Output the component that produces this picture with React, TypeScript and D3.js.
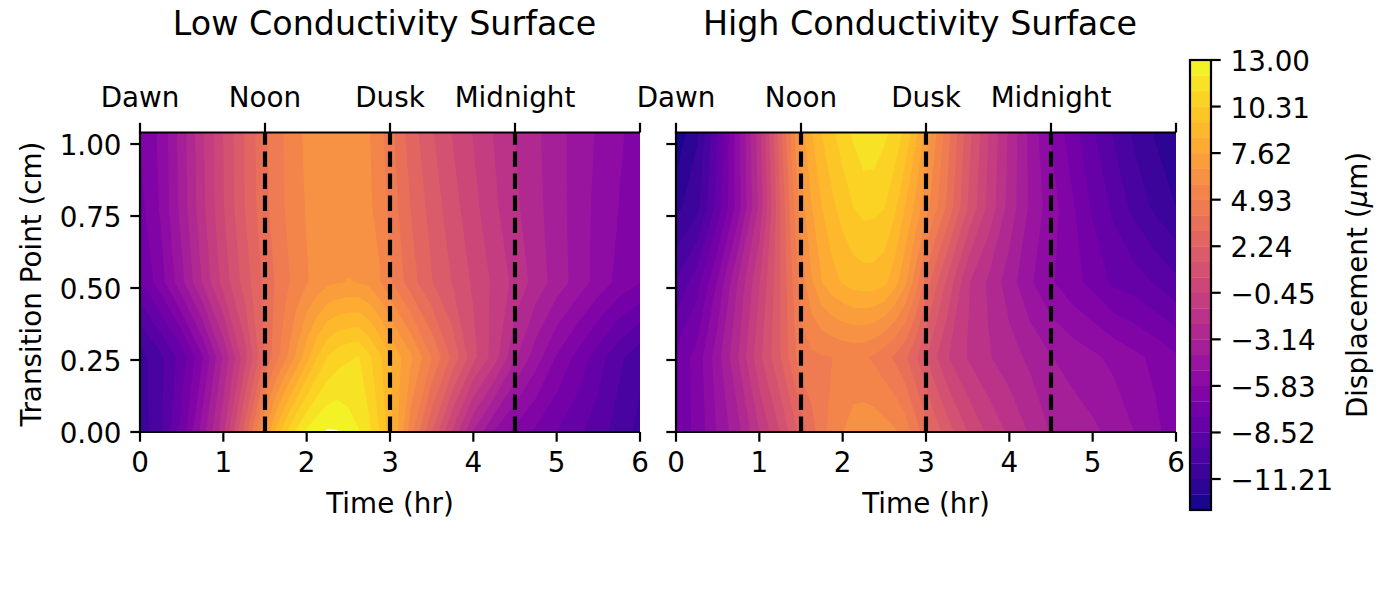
import React from "react";
import * as d3 from "d3";

const hours = [0,0.25,0.5,0.75,1,1.25,1.5,1.625,1.75,1.875,2,2.125,2.25,2.375,2.5,2.625,2.75,2.875,3,3.125,3.25,3.5,3.75,4,4.25,4.5,4.75,5,5.25,5.5,5.75,6];
const transitionPoints = [0, 0.26, 0.52, 0.78, 1.04];

const lowRow000 = [-10.8,-9.6,-7.3,-4.5,-1.6,2.5,6.8,8.7,10.2,11.4,12.3,12.85,13.1,13.05,12.6,12.15,11.4,10.3,8.9,7.2,5.3,2.3,-0.6,-3.2,-5,-6.1,-6.9,-7.6,-8.3,-9,-9.8,-10.6];
const lowRow026 = [-10.7,-9.6,-8.1,-5.9,-3,0,3.3,4.5,5.7,6.9,8.2,9.4,10.35,10.85,11.1,11.25,10.5,9.6,8.6,7.7,6.9,4.93,2.9,0.75,-0.9,-3,-4.5,-5.9,-7,-8.1,-9.2,-10];
const lowRow052 = [-7.7,-6.2,-4.3,-2.15,-0.1,1.7,3.4,4.1,4.7,5.25,5.75,6.15,6.55,6.68,6.75,6.7,6.5,5.95,5.1,4.3,3.55,2.3,1.3,0.3,-0.65,-1.6,-2.6,-3.55,-4.4,-5.3,-6.1,-6.72];
const lowRow078 = [-7,-5.7,-3.7,-1.6,0.4,2.2,3.8,4.45,5,5.5,5.9,6.18,6.35,6.42,6.4,6.25,6,5.45,4.7,3.85,3.1,1.9,0.8,-0.15,-1.15,-2.05,-2.85,-3.65,-4.45,-5.2,-5.85,-6.5];
const lowRow104 = [-6.7,-5.6,-3.6,-1.5,0.45,2.24,3.9,4.55,5.05,5.6,6,6.25,6.4,6.45,6.4,6.2,5.88,5.25,4.4,3.5,2.7,1.45,0.4,-0.5,-1.4,-2.24,-2.95,-3.7,-4.4,-5.05,-5.7,-6.2];

const highRow000 = [-7.3,-6.5,-4.8,-3.4,-1.34,0.5,2.6,3.6,4.6,5.35,5.8,6.25,6.35,6.35,6.2,5.95,5.45,4.5,3.5,2.6,1.85,0.45,-0.65,-1.5,-2.35,-3.2,-3.5,-3.85,-4.3,-4.93,-5.6,-6.3];
const highRow026 = [-7.4,-6.4,-4.4,-2.2,0.2,2.2,4.6,4.75,4.85,4.93,5.05,5.1,5.05,4.8,4.35,3.9,3.3,2.4,1.4,0.5,-0.35,-1.4,-2.15,-2.75,-3.35,-4,-4.4,-4.75,-5.15,-5.6,-6.05,-6.6];
const highRow052 = [-9.3,-8,-5.7,-3,-0.5,2.2,5.3,6.6,7.6,8.2,8.6,8.9,9,9,8.75,8,6.9,5.4,3.7,2.35,1.2,-1.2,-2.4,-3.6,-4.8,-5.7,-6.4,-7,-7.8,-8.1,-8.6,-9.2];
const highRow078 = [-11.45,-10.6,-8.1,-5.3,-2,2.2,6.3,7.55,8.5,9.2,9.8,10.3,10.6,10.55,10.35,9.6,8.5,7.4,6.2,5.05,3.9,1.34,-0.7,-2.6,-4.2,-5.4,-6.55,-7.75,-8.7,-9.7,-10.5,-11.2];
const highRow104 = [-12.8,-11.35,-8.5,-5.2,-1.7,2.8,7.2,8.45,9.45,10.15,10.75,11.35,11.85,11.85,11.4,10.9,10.1,8.8,7.3,5.85,4.5,1.8,-0.45,-2.4,-4.3,-5.9,-7.2,-8.4,-9.5,-10.5,-11.3,-11.9];

const levelCount = 30;
const levelMin = -13;
const levelMax = 13;
const colorbarTicks = [13,10.31,7.62,4.93,2.24,-0.45,-3.14,-5.83,-8.52,-11.21];
const xTicks = [0,1,2,3,4,5,6];
const yTicks = [0,0.25,0.5,0.75,1];
const phaseTimes = [1.5,3,4.5];
const topTicks = [0,1.5,3,4.5,6];
const topLabels = ["Dawn","Noon","Dusk","Midnight"];

const FONT = "'DejaVu Sans', sans-serif";
const TICK = 27.78;
const SW = 2.2;

const levels = d3.range(levelCount).map((i) => levelMin + ((levelMax - levelMin) * i) / (levelCount - 1));
const color = d3.scaleSequential(d3.interpolatePlasma).domain([levelMin, levelMax]);
const bandColor = (k: number) => color((levels[k] + levels[k + 1]) / 2);

const yTop = 132.5;
const yBottom = 432;
const y = d3.scaleLinear().domain([0, 1.04]).range([yBottom, yTop]);

function Panel({ left, rows, showY }: { left: number; rows: number[][]; showY: boolean }) {
  const x = d3.scaleLinear().domain([0, 6]).range([left, left + 500]);
  const flat = rows.flat();
  const nx = hours.length;
  const ny = transitionPoints.length;
  const contours = d3.contours().size([nx, ny]).thresholds(levels)(flat);
  const fx = d3.scaleLinear().domain(d3.range(nx)).range(hours).clamp(true);
  const fy = d3.scaleLinear().domain(d3.range(ny)).range(transitionPoints).clamp(true);
  const path = d3.geoPath(
    d3.geoTransform({
      point(px: number, py: number) {
        (this as any).stream.point(x(fx(px - 0.5)), y(fy(py - 0.5)));
      },
    })
  );
  return (
    <g>
      {contours.map((c: any, k: number) => (
        <path key={k} d={path(c) || ""} fill={k < levelCount - 1 ? bandColor(k) : "#ffffff"} />
      ))}
      {phaseTimes.map((t) => (
        <line key={t} x1={x(t)} x2={x(t)} y1={yBottom} y2={yTop} stroke="#000" strokeWidth={4.17} strokeDasharray="15.4 6.7" />
      ))}
      <line x1={left} x2={left} y1={yTop} y2={yBottom + 1.1} stroke="#000" strokeWidth={SW} />
      <line x1={left - 1.1} x2={left + 500} y1={yBottom} y2={yBottom} stroke="#000" strokeWidth={SW} />
      <line x1={left - 1.1} x2={left + 500} y1={yTop} y2={yTop} stroke="#000" strokeWidth={SW} />
      {xTicks.map((t) => (
        <g key={t}>
          <line x1={x(t)} x2={x(t)} y1={yBottom} y2={yBottom + 9.7} stroke="#000" strokeWidth={SW} />
          <text x={x(t)} y={yBottom + 40} textAnchor="middle" fontFamily={FONT} fontSize={TICK}>{t}</text>
        </g>
      ))}
      {topTicks.map((t) => (
        <line key={t} x1={x(t)} x2={x(t)} y1={yTop} y2={yTop - 9.7} stroke="#000" strokeWidth={SW} />
      ))}
      {topLabels.map((label, i) => (
        <text key={label} x={x(topTicks[i])} y={yTop - 25.5} textAnchor="middle" fontFamily={FONT} fontSize={TICK}>{label}</text>
      ))}
      {yTicks.map((t) => (
        <g key={t}>
          <line x1={left} x2={left - 9.7} y1={y(t)} y2={y(t)} stroke="#000" strokeWidth={SW} />
          {showY && (
            <text x={left - 18.5} y={y(t) + 11} textAnchor="end" fontFamily={FONT} fontSize={TICK}>{t.toFixed(2)}</text>
          )}
        </g>
      ))}
      <text x={left + 250} y={yBottom + 81} textAnchor="middle" fontFamily={FONT} fontSize={TICK}>Time (hr)</text>
    </g>
  );
}

function Colorbar() {
  const cy = d3.scaleLinear().domain([levelMin, levelMax]).range([510, 60]);
  const cLeft = 1190;
  const cRight = 1211;
  return (
    <g>
      {levels.slice(0, -1).map((lv, k) => (
        <rect key={k} x={cLeft} width={cRight - cLeft} y={cy(levels[k + 1])} height={cy(lv) - cy(levels[k + 1]) + 0.3} fill={bandColor(k)} />
      ))}
      <rect x={cLeft} y={60} width={cRight - cLeft} height={450} fill="none" stroke="#000" strokeWidth={SW} />
      {colorbarTicks.map((t) => (
        <g key={t}>
          <line x1={cRight} x2={cRight + 9.7} y1={cy(t)} y2={cy(t)} stroke="#000" strokeWidth={SW} />
          <text x={cRight + 19.5} y={cy(t) + 11} fontFamily={FONT} fontSize={TICK}>
            {t < 0 ? "\u2212" + Math.abs(t).toFixed(2) : t.toFixed(2)}
          </text>
        </g>
      ))}
      <text transform="translate(1367,285) rotate(-90)" textAnchor="middle" fontFamily={FONT} fontSize={TICK}>
        Displacement (<tspan fontStyle="italic">μ</tspan>m)
      </text>
    </g>
  );
}

export default function App() {
  const lowRows = [lowRow000, lowRow026, lowRow052, lowRow078, lowRow104];
  const highRows = [highRow000, highRow026, highRow052, highRow078, highRow104];
  return (
    <svg width={1400} height={600} style={{ position: "fixed", left: 0, top: 0, background: "#fff" }}>
      <text x={384.5} y={34.5} textAnchor="middle" fontFamily={FONT} fontSize={33.33}>Low Conductivity Surface</text>
      <text x={920} y={34.5} textAnchor="middle" fontFamily={FONT} fontSize={33.33}>High Conductivity Surface</text>
      <Panel left={140} rows={lowRows} showY={true} />
      <Panel left={676} rows={highRows} showY={false} />
      <Colorbar />
      <text transform="translate(41,284) rotate(-90)" textAnchor="middle" fontFamily={FONT} fontSize={TICK}>Transition Point (cm)</text>
    </svg>
  );
}
